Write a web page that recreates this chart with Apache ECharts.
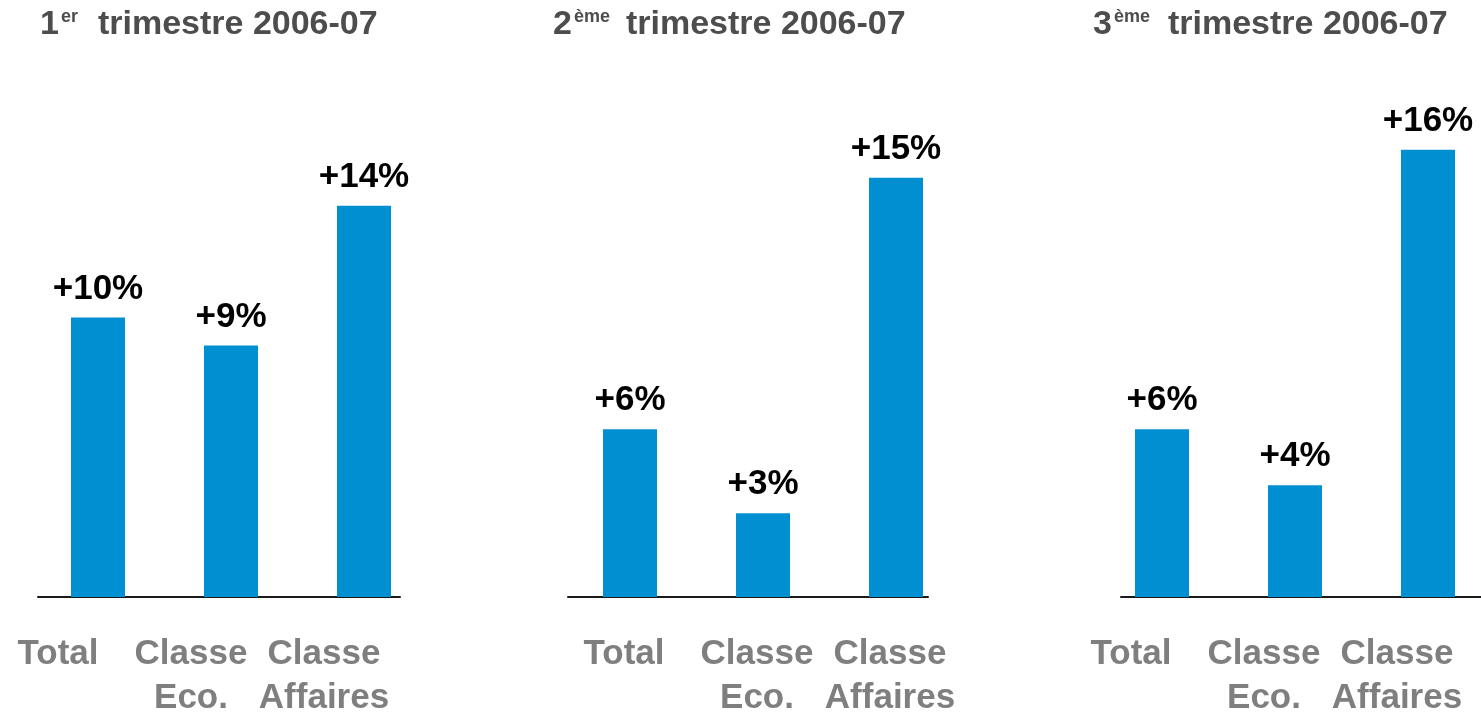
<!DOCTYPE html>
<html>
<head>
<meta charset="utf-8">
<script src="https://cdn.jsdelivr.net/npm/echarts@6/dist/echarts.min.js"></script>
<style>
  html, body { margin: 0; padding: 0; background: #fff; }
  #chart { width: 1481px; height: 712px; }
</style>
</head>
<body>
<div id="chart"></div>
<script>
  // données
  const categories = ['Total', 'Classe\nEco.', 'Classe\nAffaires'];
  const trim1 = [10, 9, 14];
  const trim2 = [6, 3, 15];
  const trim3 = [6, 4, 16];
  const quarterNum = ['1', '2', '3'];
  const quarterSup = ['er', 'ème', 'ème'];
  const quarterText = 'trimestre 2006-07';

  const FONT = '"Liberation Sans", Arial, sans-serif';
  const BAR_COLOR = '#008fd0';

  // mise en page de chaque panneau
  const panels = [
    { data: trim1, barLeft: 31.5, lineLeft: 38, lineWidth: 362, titleLeft: 40, supPad: 20, labelShift: 80 },
    { data: trim2, barLeft: 563.5, lineLeft: 568, lineWidth: 360, titleLeft: 553, supPad: 16, labelShift: 12 },
    { data: trim3, barLeft: 1095.5, lineLeft: 1121, lineWidth: 360, titleLeft: 1093, supPad: 18, labelShift: 62 }
  ];

  const TOP = 38, HEIGHT = 559;

  let grids = [], xAxes = [], yAxes = [], series = [], titles = [];

  panels.forEach(function (p, i) {
    // grille des barres
    grids.push({ left: p.barLeft, top: TOP, width: 399, height: HEIGHT, outerBoundsMode: 'none', containLabel: false });
    // grille de la ligne de base
    grids.push({ left: p.lineLeft, top: TOP, width: p.lineWidth, height: HEIGHT, outerBoundsMode: 'none', containLabel: false });

    xAxes.push({
      type: 'category',
      gridIndex: i * 2,
      data: categories,
      axisLine: { show: false },
      axisTick: { show: false },
      axisLabel: {
        interval: 0,
        margin: 35,
        color: '#7f7f7f',
        fontFamily: FONT,
        fontWeight: 'bold',
        fontSize: 35,
        lineHeight: 44,
        padding: [0, p.labelShift, 0, 0]
      }
    });
    xAxes.push({
      type: 'value',
      gridIndex: i * 2 + 1,
      min: 0, max: 1,
      axisLine: { show: true, lineStyle: { color: '#1a1a1a', width: 2 } },
      axisTick: { show: false },
      axisLabel: { show: false },
      splitLine: { show: false }
    });

    yAxes.push({ type: 'value', gridIndex: i * 2, min: 0, max: 20, show: false, splitLine: { show: false } });
    yAxes.push({ type: 'value', gridIndex: i * 2 + 1, min: 0, max: 1, show: false, splitLine: { show: false } });

    series.push({
      type: 'bar',
      xAxisIndex: i * 2,
      yAxisIndex: i * 2,
      data: p.data,
      barWidth: 54,
      itemStyle: { color: BAR_COLOR },
      label: {
        show: true,
        position: 'top',
        distance: 11,
        color: '#000',
        fontFamily: FONT,
        fontWeight: 'bold',
        fontSize: 35,
        formatter: function (d) { return '+' + d.value + '%'; }
      }
    });

    titles.push({
      left: p.titleLeft,
      top: 8,
      padding: 0,
      text: '{n|' + quarterNum[i] + '}{s|' + quarterSup[i] + '}{t|' + quarterText + '}',
      textStyle: {
        rich: {
          n: { fontFamily: FONT, fontWeight: 'bold', fontSize: 34, color: '#4d4d4d', lineHeight: 34 },
          s: { fontFamily: FONT, fontWeight: 'bold', fontSize: 18, color: '#4d4d4d', verticalAlign: 'top', lineHeight: 34, padding: [0, p.supPad, 0, 2] },
          t: { fontFamily: FONT, fontWeight: 'bold', fontSize: 34, color: '#4d4d4d', lineHeight: 34 }
        }
      }
    });
  });

  const chart = echarts.init(document.getElementById('chart'));
  chart.setOption({
    animation: false,
    backgroundColor: '#ffffff',
    title: titles,
    grid: grids,
    xAxis: xAxes,
    yAxis: yAxes,
    series: series
  });
</script>
</body>
</html>
